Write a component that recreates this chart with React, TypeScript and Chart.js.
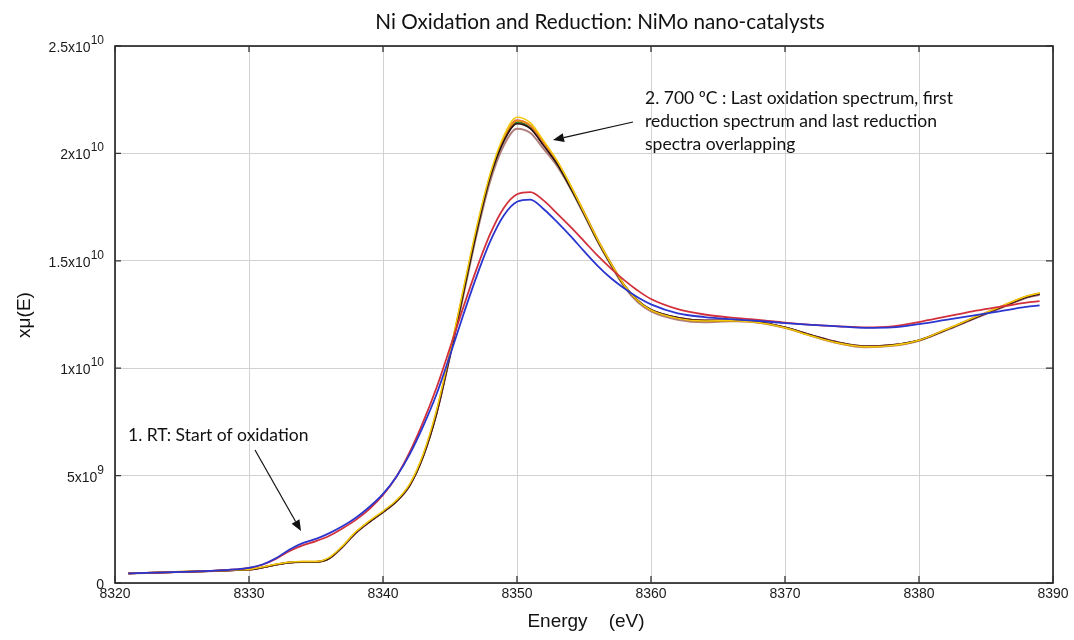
import React, { useEffect, useRef } from "react";
import { Chart, registerables } from "chart.js";
Chart.register(...registerables);

// Energy grid (eV)
const energy = [8321, 8323, 8325, 8327, 8329, 8330, 8331, 8332, 8333, 8334, 8335, 8336, 8337, 8338, 8339, 8340, 8341, 8342, 8343, 8344, 8345, 8346, 8347, 8348, 8349, 8350, 8351, 8352, 8353, 8354, 8355, 8356, 8357, 8358, 8359, 8360, 8362, 8364, 8366, 8368, 8370, 8372, 8374, 8376, 8378, 8380, 8382, 8384, 8386, 8388, 8389];

// x mu(E) in units of 1e9
const rtBlue = [0.45, 0.48, 0.52, 0.56, 0.63, 0.70, 0.86, 1.15, 1.55, 1.86, 2.05, 2.32, 2.65, 3.05, 3.55, 4.15, 4.95, 6.00, 7.30, 8.80, 10.60, 12.50, 14.30, 15.90, 17.10, 17.75, 17.85, 17.40, 16.80, 16.15, 15.45, 14.78, 14.20, 13.72, 13.30, 12.97, 12.55, 12.38, 12.28, 12.20, 12.10, 12.02, 11.95, 11.88, 11.90, 12.05, 12.25, 12.45, 12.65, 12.85, 12.92];
const rtRed = [0.45, 0.48, 0.52, 0.56, 0.63, 0.70, 0.85, 1.12, 1.48, 1.75, 1.95, 2.20, 2.55, 2.95, 3.45, 4.10, 4.95, 6.10, 7.50, 9.10, 10.95, 12.85, 14.65, 16.25, 17.45, 18.10, 18.20, 17.80, 17.20, 16.58, 15.92, 15.25, 14.65, 14.10, 13.62, 13.22, 12.75, 12.50, 12.35, 12.25, 12.12, 12.02, 11.95, 11.90, 11.95, 12.15, 12.40, 12.65, 12.85, 13.05, 13.12];
const hotBlack = [0.45, 0.48, 0.52, 0.55, 0.60, 0.62, 0.72, 0.85, 0.95, 0.98, 0.98, 1.15, 1.70, 2.35, 2.85, 3.30, 3.80, 4.55, 5.90, 7.90, 10.60, 13.50, 16.40, 18.90, 20.55, 21.38, 21.15, 20.35, 19.50, 18.40, 17.20, 15.95, 14.85, 13.85, 13.15, 12.72, 12.35, 12.22, 12.22, 12.15, 11.90, 11.53, 11.20, 11.02, 11.08, 11.30, 11.78, 12.30, 12.80, 13.30, 13.45];
const hotGreen = [0.45, 0.48, 0.52, 0.55, 0.60, 0.62, 0.72, 0.85, 0.95, 0.98, 0.98, 1.15, 1.70, 2.35, 2.85, 3.30, 3.80, 4.55, 5.90, 7.90, 10.60, 13.50, 16.40, 18.90, 20.60, 21.45, 21.20, 20.40, 19.52, 18.40, 17.20, 15.95, 14.85, 13.85, 13.15, 12.72, 12.35, 12.22, 12.22, 12.15, 11.90, 11.53, 11.20, 11.02, 11.08, 11.30, 11.78, 12.30, 12.80, 13.30, 13.45];
const hotPink = [0.45, 0.48, 0.52, 0.55, 0.60, 0.62, 0.72, 0.85, 0.95, 0.98, 0.98, 1.15, 1.70, 2.35, 2.85, 3.30, 3.80, 4.55, 5.90, 7.90, 10.60, 13.55, 16.45, 18.95, 20.65, 21.55, 21.28, 20.45, 19.55, 18.45, 17.22, 15.98, 14.86, 13.86, 13.16, 12.72, 12.35, 12.22, 12.22, 12.15, 11.90, 11.53, 11.20, 11.02, 11.08, 11.30, 11.78, 12.30, 12.80, 13.30, 13.45];
const hotOrange = [0.45, 0.48, 0.52, 0.55, 0.60, 0.62, 0.73, 0.86, 0.96, 0.99, 0.99, 1.17, 1.72, 2.38, 2.87, 3.32, 3.82, 4.58, 5.95, 8.00, 10.70, 13.60, 16.50, 18.95, 20.65, 21.52, 21.30, 20.50, 19.62, 18.50, 17.28, 16.02, 14.90, 13.88, 13.16, 12.70, 12.32, 12.20, 12.21, 12.13, 11.88, 11.50, 11.17, 11.00, 11.06, 11.30, 11.80, 12.33, 12.84, 13.35, 13.50];
const hotYellow = [0.46, 0.49, 0.53, 0.56, 0.61, 0.63, 0.74, 0.87, 0.97, 1.00, 1.00, 1.19, 1.74, 2.40, 2.90, 3.35, 3.85, 4.62, 6.00, 8.05, 10.75, 13.70, 16.60, 19.05, 20.80, 21.68, 21.42, 20.58, 19.65, 18.50, 17.25, 16.00, 14.88, 13.86, 13.14, 12.70, 12.32, 12.20, 12.21, 12.13, 11.88, 11.50, 11.17, 11.00, 11.06, 11.30, 11.80, 12.33, 12.84, 13.35, 13.50];
const hotBrown = [0.45, 0.48, 0.52, 0.55, 0.60, 0.62, 0.72, 0.85, 0.95, 0.98, 0.98, 1.15, 1.70, 2.35, 2.85, 3.30, 3.80, 4.55, 5.90, 7.90, 10.55, 13.40, 16.25, 18.70, 20.35, 21.15, 20.95, 20.20, 19.40, 18.35, 17.15, 15.92, 14.80, 13.80, 13.08, 12.65, 12.26, 12.14, 12.18, 12.12, 11.88, 11.50, 11.16, 10.98, 11.04, 11.28, 11.76, 12.28, 12.78, 13.28, 13.42];

// listed top-most first
const seriesNames = ["RT blue", "RT red", "700 yellow", "700 black", "700 orange", "700 pink", "700 green", "700 brown"];
const seriesData = [rtBlue, rtRed, hotYellow, hotBlack, hotOrange, hotPink, hotGreen, hotBrown];
const seriesColors = ["#2a36cf", "#d2313c", "#f3c90c", "#2a1010", "#e58a12", "#e04a93", "#2f7d3a", "#b07f7c"];
const seriesWidths = [1.8, 1.8, 1.5, 1.6, 1.8, 1.8, 1.8, 2.0];

const xTicks = [8320, 8330, 8340, 8350, 8360, 8370, 8380, 8390];
const yTickValues = [0, 5, 10, 15, 20, 25];
const yTickBases = ["0", "5x10", "1x10", "1.5x10", "2x10", "2.5x10"];
const yTickExps = ["", "9", "10", "10", "10", "10"];

const titleText = "Ni Oxidation and Reduction: NiMo nano-catalysts";
const note1 = "1. RT: Start of oxidation";
const note2 = ["2. 700 \u00baC : Last oxidation spectrum, first", "reduction spectrum and last reduction", "spectra overlapping"];
const xTitle = "Energy    (eV)";
const yTitle = "x\u03bc(E)";

function arrow(ctx: CanvasRenderingContext2D, x1: number, y1: number, x2: number, y2: number) {
  const ang = Math.atan2(y2 - y1, x2 - x1);
  const len = 11, half = 4.5;
  const bx = x2 - len * Math.cos(ang), by = y2 - len * Math.sin(ang);
  ctx.strokeStyle = "#111";
  ctx.lineWidth = 1.2;
  ctx.beginPath();
  ctx.moveTo(x1, y1);
  ctx.lineTo(bx, by);
  ctx.stroke();
  ctx.fillStyle = "#111";
  ctx.beginPath();
  ctx.moveTo(x2, y2);
  ctx.lineTo(bx + half * Math.sin(ang), by - half * Math.cos(ang));
  ctx.lineTo(bx - half * Math.sin(ang), by + half * Math.cos(ang));
  ctx.closePath();
  ctx.fill();
}

const decor = {
  id: "decor",
  afterDraw(chart: any) {
    const ctx: CanvasRenderingContext2D = chart.ctx;
    const a = chart.chartArea;
    const xs = chart.scales.x, ys = chart.scales.y;
    ctx.save();
    // frame
    ctx.strokeStyle = "#1e1e1e";
    ctx.lineWidth = 1.6;
    ctx.strokeRect(a.left, a.top, a.right - a.left, a.bottom - a.top);
    // inward ticks
    ctx.lineWidth = 1.3;
    ctx.strokeStyle = "#333";
    yTickValues.forEach((v) => {
      const y = ys.getPixelForValue(v);
      ctx.beginPath();
      ctx.moveTo(a.left, y); ctx.lineTo(a.left + 6, y);
      ctx.moveTo(a.right, y); ctx.lineTo(a.right - 7, y);
      ctx.stroke();
    });
    xTicks.forEach((v) => {
      const x = xs.getPixelForValue(v);
      ctx.beginPath();
      ctx.moveTo(x, a.bottom); ctx.lineTo(x, a.bottom - 7);
      ctx.moveTo(x, a.top); ctx.lineTo(x, a.top + 6);
      ctx.stroke();
    });
    // y tick labels with superscripts
    ctx.fillStyle = "#1a1a1a";
    ctx.textBaseline = "alphabetic";
    yTickValues.forEach((v, i) => {
      const y = ys.getPixelForValue(v);
      const right = 104;
      ctx.font = "12px 'Liberation Sans', Arial, sans-serif";
      const ew = yTickExps[i] ? ctx.measureText(yTickExps[i]).width : 0;
      ctx.textAlign = "right";
      if (yTickExps[i]) ctx.fillText(yTickExps[i], right, y - 2);
      ctx.font = "14px 'Liberation Sans', Arial, sans-serif";
      ctx.fillText(yTickBases[i], right - ew, y + 6);
    });
    // title
    ctx.textAlign = "center";
    ctx.textBaseline = "middle";
    ctx.font = "20.7px Lato, 'Open Sans', sans-serif";
    ctx.fillStyle = "#111";
    ctx.fillText(titleText, 600, 22);
    // axis titles
    ctx.font = "19px 'Liberation Sans', Arial, sans-serif";
    ctx.fillText(xTitle, 586, 622);
    ctx.save();
    ctx.translate(25, 315);
    ctx.rotate(-Math.PI / 2);
    ctx.fillText(yTitle, 0, 0);
    ctx.restore();
    // annotations
    ctx.textAlign = "left";
    ctx.font = "17.5px Lato, 'Open Sans', sans-serif";
    ctx.fillText(note1, 128, 435);
    note2.forEach((t, i) => ctx.fillText(t, 645, 98 + i * 23.3));
    arrow(ctx, 255, 450, 301, 531);
    arrow(ctx, 633, 122, 553, 140);
    ctx.restore();
  },
};

export default function App() {
  const ref = useRef<HTMLCanvasElement>(null);
  useEffect(() => {
    if (!ref.current) return;
    const datasets = seriesData.map((arr, i) => ({
      label: seriesNames[i],
      data: energy.map((e, j) => ({ x: e, y: arr[j] })),
      borderColor: seriesColors[i],
      backgroundColor: seriesColors[i],
      borderWidth: seriesWidths[i],
      pointRadius: 0,
      fill: false,
      cubicInterpolationMode: "monotone" as const,
      order: i,
    }));
    const chart = new Chart(ref.current, {
      type: "line",
      data: { datasets },
      options: {
        responsive: false,
        animation: false,
        layout: { padding: { top: 46, right: 21, left: 0, bottom: 0 } },
        plugins: { legend: { display: false }, tooltip: { enabled: false }, title: { display: false } },
        scales: {
          x: {
            type: "linear",
            min: 8320,
            max: 8390,
            afterBuildTicks: (s: any) => { s.ticks = xTicks.map((v) => ({ value: v })); },
            afterFit: (s: any) => { s.height = 57; },
            ticks: {
              padding: 3,
              color: "#1a1a1a",
              font: { family: "'Liberation Sans', Arial, sans-serif", size: 14 },
              maxRotation: 0,
              autoSkip: false,
              callback: (v: any) => String(v),
            },
            grid: { color: "#d2d2d2", lineWidth: 1, drawTicks: false },
            border: { display: false },
          },
          y: {
            type: "linear",
            min: 0,
            max: 25,
            afterBuildTicks: (s: any) => { s.ticks = yTickValues.map((v) => ({ value: v })); },
            afterFit: (s: any) => { s.width = 115; },
            ticks: { display: false },
            grid: { color: "#d2d2d2", lineWidth: 1, drawTicks: false },
            border: { display: false },
          },
        },
      },
      plugins: [decor],
    });
    return () => chart.destroy();
  }, []);
  return (
    <div style={{ position: "fixed", left: 0, top: 0, width: 1074, height: 640, background: "#fff" }}>
      <canvas ref={ref} width={1074} height={640} style={{ display: "block" }} />
    </div>
  );
}
